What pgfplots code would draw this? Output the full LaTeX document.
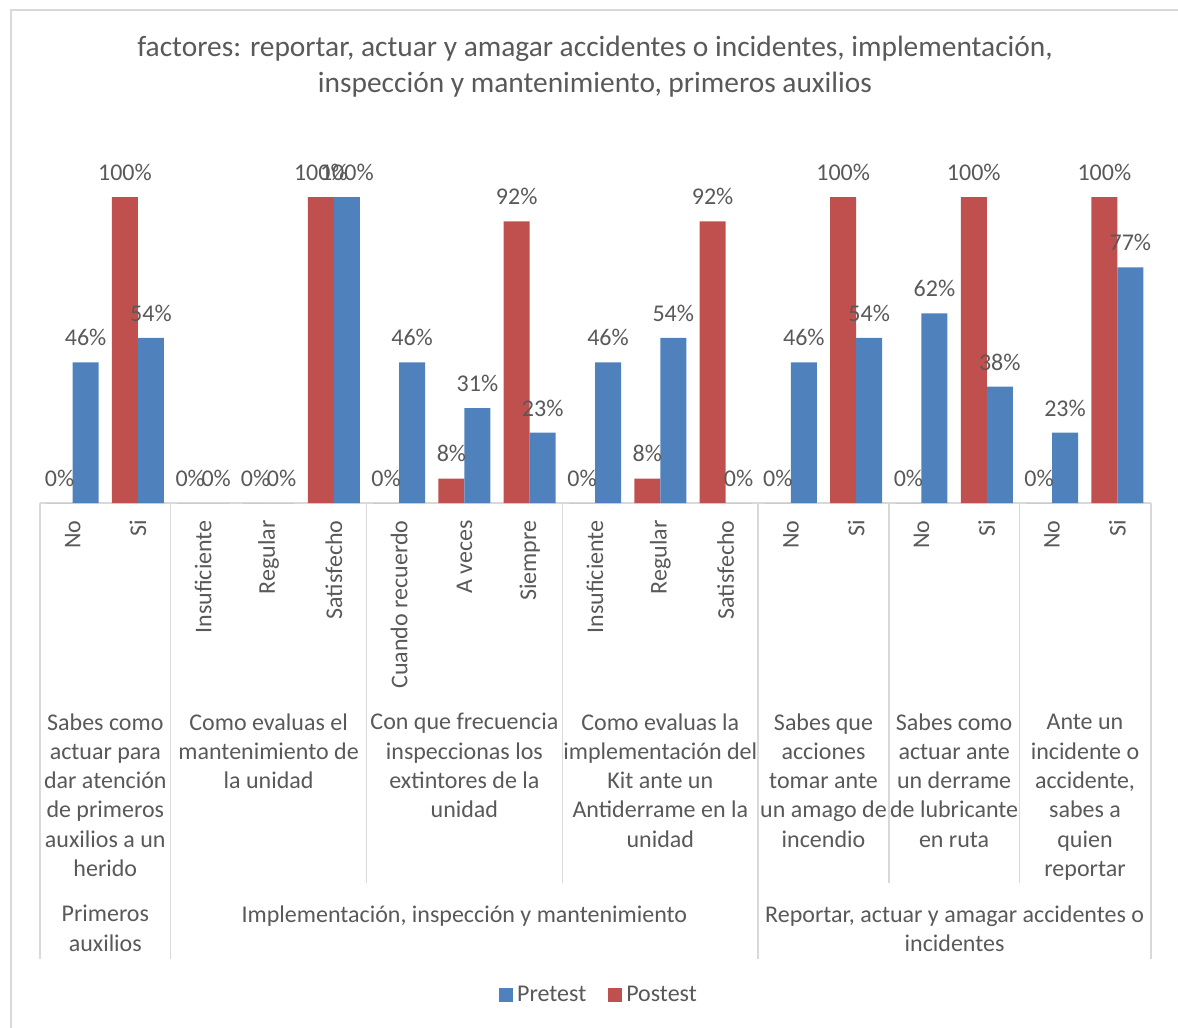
\documentclass[border=0pt]{standalone}
\usepackage{pgfplots}
\pgfplotsset{compat=1.18}
\usepackage{fontspec}
\setmainfont{Carlito}
\definecolor{txt}{HTML}{595959}
\definecolor{gridc}{HTML}{D9D9D9}
\definecolor{pre}{HTML}{4F81BD}
\definecolor{post}{HTML}{C0504D}
\newcommand{\lbl}{\fontsize{12}{14.65}\selectfont}
\begin{document}
\begin{tikzpicture}
\path[use as bounding box] (0pt,0pt) rectangle (589pt,-514pt);
\begin{scope}[x=0.5pt,y=-0.5pt]
  % chart border
  \draw[gridc, line width=0.9pt] (11,1028) -- (11,10) -- (1178,10);
  % title
  \node[txt, font=\fontsize{14.7}{18}\selectfont, align=center, anchor=north, inner sep=0pt] at (595,36)
    {factores: reportar, actuar y amagar accidentes o incidentes, implementación,\\inspección y mantenimiento, primeros auxilios};
  % axis line and separators
  \draw[gridc, line width=0.75pt] (40,503) -- (1151,503);
  \foreach \xx in {40,170.6,758.2,1151} {\draw[gridc, line width=0.75pt] (\xx,503) -- (\xx,959);}
  \foreach \xx in {366.5,562.3,888.8,1019.4} {\draw[gridc, line width=0.75pt] (\xx,503) -- (\xx,883);}
  % second level labels
  \tikzset{grp/.style={txt, font=\lbl, align=center, anchor=north, inner sep=0pt}}
  \node[grp] at (105.3,713) {Sabes como\\actuar para\\dar atención\\de primeros\\auxilios a un\\herido};
  \node[grp] at (268.6,713) {Como evaluas el\\mantenimiento de\\la unidad};
  \node[grp] at (464.4,713) {Con que frecuencia\\inspeccionas los\\extintores de la\\unidad};
  \node[grp] at (660.3,713) {Como evaluas la\\implementación del\\Kit ante un\\Antiderrame en la\\unidad};
  \node[grp] at (823.5,713) {Sabes que\\acciones\\tomar ante\\un amago de\\incendio};
  \node[grp] at (954.1,713) {Sabes como\\actuar ante\\un derrame\\de lubricante\\en ruta};
  \node[grp] at (1085,714) {Ante un\\incidente o\\accidente,\\sabes a\\quien\\reportar};
  % top level labels
  \node[grp] at (105.3,905) {Primeros\\auxilios};
  \node[grp] at (464.4,905) {Implementación, inspección y mantenimiento};
  \node[grp] at (954.6,905) {Reportar, actuar y amagar accidentes o\\incidentes};
\end{scope}
\begin{axis}[
  at={(20pt,-251.5pt)}, anchor=south west,
  scale only axis, width=555pt, height=153pt,
  xmin=-0.5, xmax=16.5, ymin=0, ymax=100,
  ybar=0pt, bar width=13pt,
  axis line style={draw=none},
  ytick=\empty,
  xtick={0,...,16},
  xticklabels={No,Si,Insuficiente,Regular,Satisfecho,Cuando recuerdo,A veces,Siempre,Insuficiente,Regular,Satisfecho,No,Si,No,Si,No,Si},
  major tick length=0pt,
  xticklabel shift=8.5pt,
  xticklabel style={font=\lbl, text=txt, rotate=90, anchor=east, inner sep=0pt},
  clip=false,
  /pgf/number format/assume math mode=true,
  nodes near coords={\pgfmathprintnumber{\pgfplotspointmeta}\%},
  nodes near coords style={font=\lbl, text=txt, anchor=south, inner sep=0pt, yshift=8pt},
  legend columns=2,
  reverse legend,
  legend style={at={(0.5045,-1.608)}, anchor=center, draw=none, fill=none, font=\lbl, text=txt,
    /tikz/every even column/.append style={column sep=9pt}},
  legend image code/.code={\fill[#1] (0pt,-3.5pt) rectangle (7pt,3.5pt);},
]
\addplot[fill=post, draw=none] coordinates {(0,0) (1,100) (2,0) (3,0) (4,100) (5,0) (6,8) (7,92) (8,0) (9,8) (10,92) (11,0) (12,100) (13,0) (14,100) (15,0) (16,100)};
\addplot[fill=pre, draw=none] coordinates {(0,46) (1,54) (2,0) (3,0) (4,100) (5,46) (6,31) (7,23) (8,46) (9,54) (10,0) (11,46) (12,54) (13,62) (14,38) (15,23) (16,77)};
\legend{Postest,Pretest}
\end{axis}
\end{tikzpicture}
\end{document}
